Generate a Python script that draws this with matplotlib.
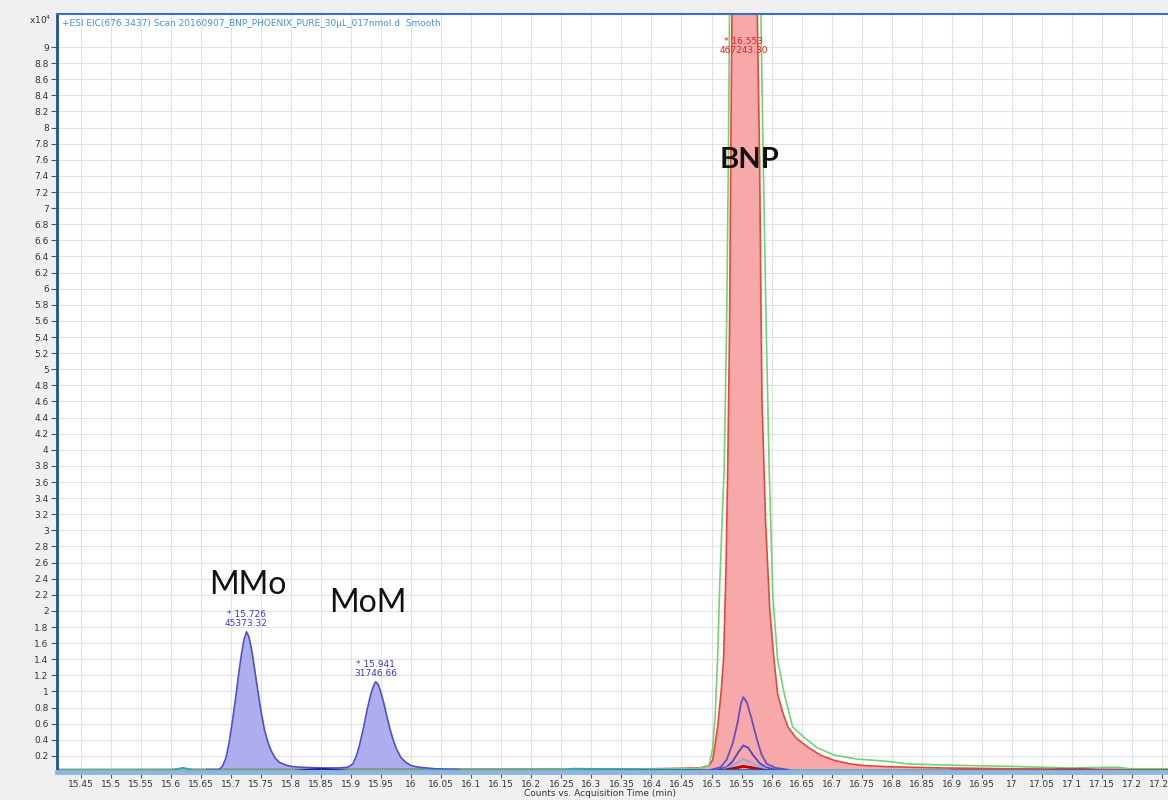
import numpy as np
import matplotlib.pyplot as plt

# retention times (min) and intensities (x10^4 counts) for each EIC trace
mmo_mom_t = [15.660, 15.680, 15.686, 15.692, 15.697, 15.702, 15.708, 15.713, 15.718, 15.722,
             15.726, 15.730, 15.735, 15.740, 15.745, 15.750, 15.756, 15.762, 15.768, 15.774,
             15.781, 15.790, 15.800, 15.815, 15.850, 15.880, 15.895, 15.903, 15.909, 15.915,
             15.921, 15.927, 15.933, 15.938, 15.941, 15.945, 15.950, 15.955, 15.960, 15.965,
             15.970, 15.976, 15.983, 15.991, 16.000, 16.012, 16.040, 16.080]
mmo_mom_y = [0.03, 0.03, 0.07, 0.18, 0.36, 0.60, 0.92, 1.22, 1.48, 1.65,
             1.74, 1.68, 1.50, 1.25, 1.00, 0.76, 0.52, 0.36, 0.25, 0.17,
             0.12, 0.09, 0.07, 0.06, 0.05, 0.05, 0.06, 0.10, 0.20, 0.36,
             0.56, 0.78, 0.97, 1.08, 1.12, 1.09, 0.98, 0.84, 0.68, 0.53,
             0.40, 0.28, 0.18, 0.12, 0.08, 0.06, 0.04, 0.03]

bnp_t = [15.41, 16.40, 16.480, 16.496, 16.502, 16.510, 16.516, 16.520, 16.524, 16.527,
         16.530, 16.532, 16.534, 16.541, 16.549, 16.558, 16.576, 16.580, 16.582, 16.584,
         16.590, 16.597, 16.604, 16.610, 16.618, 16.627, 16.641, 16.660, 16.681, 16.704,
         16.731, 16.754, 16.796, 16.886, 17.00, 17.28]
bnp_y = [0.03, 0.04, 0.05, 0.08, 0.15, 0.55, 1.00, 1.40, 2.50, 3.80,
         5.50, 7.60, 9.50, 14.0, 16.0, 14.0, 9.50, 7.60, 6.00, 4.60,
         3.10, 2.00, 1.39, 0.97, 0.75, 0.56, 0.42, 0.31, 0.21, 0.145,
         0.10, 0.08, 0.065, 0.05, 0.04, 0.03]

green_t = [15.41, 16.00, 16.476, 16.496, 16.502, 16.506, 16.510, 16.514, 16.518, 16.521,
           16.525, 16.528, 16.530, 16.549, 16.582, 16.586, 16.591, 16.596, 16.602, 16.610,
           16.621, 16.635, 16.654, 16.676, 16.704, 16.743, 16.796, 16.826, 16.896, 16.996,
           17.096, 17.176, 17.196, 17.28]
green_y = [0.03, 0.03, 0.04, 0.08, 0.30, 0.70, 1.39, 2.40, 3.20, 3.75,
           5.50, 7.60, 9.50, 16.0, 9.50, 7.60, 5.50, 3.75, 2.20, 1.39,
           0.97, 0.56, 0.43, 0.30, 0.21, 0.16, 0.13, 0.10, 0.085, 0.07,
           0.05, 0.06, 0.04, 0.04]

minor_a_t = [16.500, 16.515, 16.525, 16.535, 16.543, 16.549, 16.553, 16.559, 16.567,
             16.575, 16.583, 16.592, 16.607, 16.627]
minor_a_y = [0.03, 0.06, 0.15, 0.35, 0.60, 0.85, 0.93, 0.86, 0.65,
             0.42, 0.22, 0.10, 0.05, 0.03]
minor_b_t = [16.510, 16.525, 16.535, 16.545, 16.553, 16.561, 16.570, 16.580, 16.590, 16.605]
minor_b_y = [0.03, 0.06, 0.13, 0.25, 0.33, 0.30, 0.20, 0.11, 0.06, 0.03]
minor_c_t = [16.520, 16.535, 16.553, 16.570, 16.590]
minor_c_y = [0.03, 0.08, 0.16, 0.10, 0.04]
minor_d_t = [16.520, 16.540, 16.553, 16.570, 16.590]
minor_d_y = [0.02, 0.05, 0.07, 0.05, 0.02]

# low-level baseline traces
teal_t = [15.41, 15.50, 15.60, 15.62, 15.64, 15.70, 16.00, 16.25, 16.27, 16.50, 17.28]
teal_y = [0.02, 0.02, 0.02, 0.05, 0.02, 0.02, 0.02, 0.02, 0.04, 0.02, 0.02]
navy_t = [15.41, 15.80, 15.85, 15.90, 16.20, 16.60, 16.65, 17.00, 17.28]
navy_y = [0.01, 0.01, 0.04, 0.01, 0.01, 0.02, 0.01, 0.01, 0.01]
brown_t = [16.90, 17.05, 17.08, 17.12, 17.15, 17.28]
brown_y = [0.02, 0.02, 0.035, 0.035, 0.02, 0.02]

peak_rt = [15.726, 15.941, 16.553]
peak_h = [1.74, 1.12, 8.85]
peak_area = ['45373.32', '31746.66', '467243.30']
peak_col = ['#3a3ad0', '#3a3ad0', '#e02020']

names = ['MMo', 'MoM', 'BNP']
name_x = [15.728, 15.928, 16.564]
name_y = [2.32, 2.10, 7.60]

fig = plt.figure(figsize=(11.68, 8), dpi=100, facecolor='#f0f0f0')
ax = fig.add_axes([57 / 1168, 28 / 800, 1123 / 1168, 758 / 800])
ax.set_facecolor('white')

ax.set_xlim(15.4106, 17.2797)
ax.set_ylim(0, 9.41)

# traces
ax.fill_between(bnp_t, bnp_y, color='#f7a8a8', lw=0)
ax.plot(bnp_t, bnp_y, color='#e8463c', lw=1.2)
ax.plot(green_t, green_y, color='#74d274', lw=1.2)
ax.fill_between(mmo_mom_t, mmo_mom_y, color='#aeaeef', lw=0)
ax.plot(mmo_mom_t, mmo_mom_y, color='#5050c8', lw=1.2)
ax.plot(minor_a_t, minor_a_y, color='#6a4fc0', lw=1.3)
ax.plot(minor_b_t, minor_b_y, color='#4848c4', lw=1.3)
ax.plot(minor_c_t, minor_c_y, color='#93a8e6', lw=1.5)
ax.plot(minor_d_t, minor_d_y, color='#c00000', lw=2)
ax.plot(teal_t, teal_y, color='#3aa6a6', lw=1.5)
ax.plot(navy_t, navy_y, color='#1c2a9c', lw=1.5)
ax.plot(brown_t, brown_y, color='#9a4a4a', lw=1.5)

# peak labels
for rt, h, area, c in zip(peak_rt, peak_h, peak_area, peak_col):
    ax.text(rt, h + 0.05, '* %.3f\n%s' % (rt, area), ha='center', va='bottom',
            fontsize=6.5, color=c, linespacing=0.95)

for n, x, y in zip(names, name_x, name_y):
    bold = n == 'BNP'
    ax.text(x, y, n, ha='center', va='center', fontsize=21 if bold else 23,
            family='Lato', fontweight='bold' if bold else 'normal', color='#111111')

# axes styling
xt = np.round(np.arange(15.45, 17.26, 0.05), 2)
yt = np.round(np.arange(0.2, 9.01, 0.2), 1)
ax.set_xticks(xt)
ax.set_xticklabels(['%g' % v for v in xt])
ax.set_yticks(yt)
ax.set_yticklabels(['%g' % v for v in yt])
ax.tick_params(axis='both', labelsize=6.5, labelcolor='#333333', color='#555555',
               length=4, width=0.8, pad=2)
ax.grid(True, color='#e2e2e2', lw=0.8)
ax.set_axisbelow(True)

ax.spines['left'].set_color('#1f4e9c')
ax.spines['left'].set_linewidth(2)
ax.spines['top'].set_color('#3c6ec8')
ax.spines['top'].set_linewidth(1.5)
ax.spines['bottom'].set_color('#8fb6e0')
ax.spines['bottom'].set_linewidth(3.5)
ax.spines['right'].set_visible(False)

fig.text(40 / 1168, 1 - 20 / 800, r'x10$^{4}$', fontsize=6.5, color='#333333',
         ha='center', va='center')
fig.text(62 / 1168, 1 - 24 / 800,
         '+ESI EIC(676.3437) Scan 20160907_BNP_PHOENIX_PURE_30\u00b5L_017nmol.d  Smooth',
         fontsize=6.5, color='#4a8fd8', ha='left', va='center')
fig.text(600 / 1168, 6 / 800, 'Counts vs. Acquisition Time (min)', fontsize=6.5,
         color='#333333', ha='center', va='center')

fig.savefig('out.png', dpi=100, facecolor=fig.get_facecolor())
